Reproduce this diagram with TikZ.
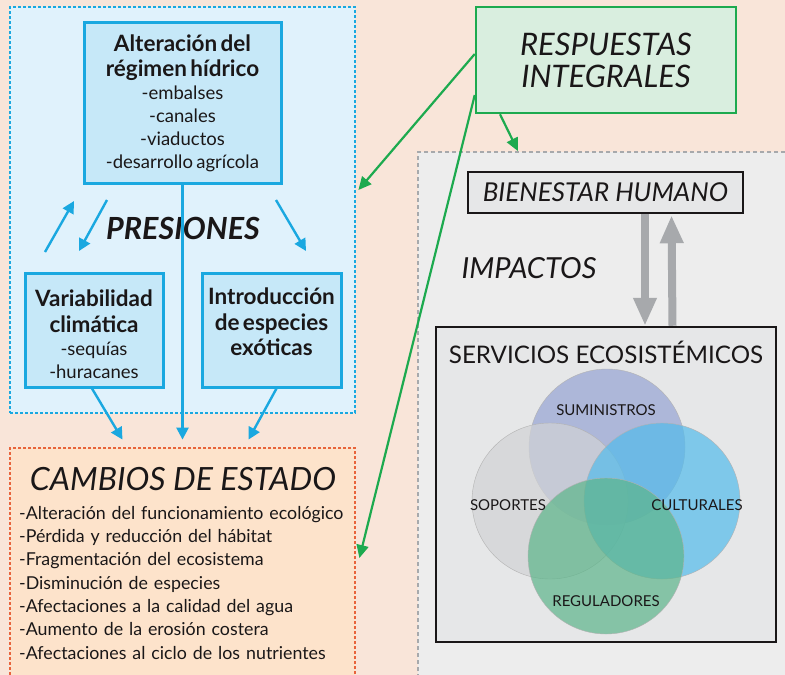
\documentclass[tikz,border=0pt]{standalone}
\usepackage{fontspec}
\setmainfont{Lato}
\usetikzlibrary{arrows.meta}

\definecolor{fondo}{HTML}{F9E5D9}
\definecolor{cian}{HTML}{1AA8E0}
\definecolor{azulclaro}{HTML}{E0F2FC}
\definecolor{azulcaja}{HTML}{C6E8F8}
\definecolor{naranja}{HTML}{E8643C}
\definecolor{naranjaclaro}{HTML}{FDE3CB}
\definecolor{verde}{HTML}{1DAA4F}
\definecolor{verdeclaro}{HTML}{D9EEDF}
\definecolor{grisfondo}{HTML}{EDEDED}
\definecolor{grisborde}{HTML}{A7A9AC}
\definecolor{griscaja}{HTML}{E6E7E8}
\definecolor{gristexto}{HTML}{1A1718}
\definecolor{csuministros}{HTML}{96A4D4}
\definecolor{csoportes}{HTML}{D2D3D5}
\definecolor{cculturales}{HTML}{53BBEB}
\definecolor{creguladores}{HTML}{5CB58A}

\newcommand{\tit}{\bfseries\fontsize{22.5}{25.5}\selectfont}
\newcommand{\lis}{\mdseries\fontsize{18.5}{23}\selectfont}

\begin{document}
\begin{tikzpicture}[x=1pt,y=-1pt,
  every node/.style={text=gristexto},
  caja/.style={draw=cian, line width=3pt, fill=azulcaja, inner sep=0pt},
  texto/.style={align=center, text width=190pt, inner sep=0pt},
  flechaazul/.style={-{Triangle[length=12pt,width=12pt]}, cian, line width=2.4pt},
  flechaverde/.style={-{Triangle[length=13pt,width=12pt]}, verde, line width=2.2pt},
  flechagris/.style={-{Triangle[length=28pt,width=22pt]}, grisborde, line width=8pt},
  circulo/.style={circle, minimum size=156pt, inner sep=0pt, draw=gray!60, line width=0.4pt, fill opacity=0.7},
  etiqueta/.style={font=\fontsize{15}{17}\selectfont}]

\useasboundingbox[fill=fondo] (0,0) rectangle (785,675);

% presiones
\node[draw=cian, dash pattern=on 3pt off 2pt, line width=2.8pt, fill=azulclaro,
      minimum width=345pt, minimum height=406pt, inner sep=0pt] (presiones) at (182.5,210) {};
\node[caja, minimum width=197pt, minimum height=161pt] (alteracion) at (182.5,102.5) {};
\node[texto] (alteraciontxt) at (182.5,103.5) {{\tit Alteración del\\régimen hídrico\par}
  {\lis -embalses\\-canales\\-viaductos\\-desarrollo agrícola\par}};
\node[caja, minimum width=138pt, minimum height=114pt] (variabilidad) at (94,330) {};
\node[texto] (variabilidadtxt) at (94,334) {{\tit Variabilidad\\climática\par}
  {\lis -sequías\\-huracanes\par}};
\node[caja, minimum width=139pt, minimum height=114pt] (introduccion) at (271.5,330) {};
\node[texto] (introducciontxt) at (271.5,322) {{\tit Introducción\\de especies\\exóticas\par}};
\node[font=\bfseries\itshape\fontsize{30.5}{32}\selectfont] (presionestxt) at (183,228) {PRESIONES};

\coordinate (sube1) at (45,252);
\coordinate (sube2) at (74,201);
\coordinate (baja1) at (107,200);
\coordinate (baja2) at (79,251);
\coordinate (der1) at (276,200);
\coordinate (der2) at (306,251);
\draw[flechaazul] (sube1) -- (sube2);
\draw[flechaazul] (baja1) -- (baja2);
\draw[flechaazul] (der1) -- (der2);

% cambios de estado
\node[draw=naranja, dash pattern=on 3pt off 2pt, line width=2.8pt, fill=naranjaclaro,
      minimum width=345pt, minimum height=236pt, inner sep=0pt] (cambios) at (182.5,566) {};
\node[font=\itshape\fontsize{32}{34}\selectfont] (cambiostxt) at (183,479) {CAMBIOS DE ESTADO};
\node[anchor=north west, align=left, text width=340pt, font=\fontsize{17.8}{23.3}\selectfont, inner sep=0pt] (listacambios) at (19,506)
  {-Alteración del funcionamiento ecológico\\
   -Pérdida y reducción del hábitat\\
   -Fragmentación del ecosistema\\
   -Disminución de especies\\
   -Afectaciones a la calidad del agua\\
   -Aumento de la erosión costera\\
   -Afectaciones al ciclo de los nutrientes};

\draw[flechaazul] (alteracion.south) -- ([yshift=7pt]cambios.north);
\draw[flechaazul] ([xshift=-2pt]variabilidad.south) -- ([xshift=-60pt,yshift=7pt]cambios.north);
\draw[flechaazul] ([xshift=5pt]introduccion.south) -- ([xshift=66pt,yshift=7pt]cambios.north);

% impactos
\node[draw=grisborde, dash pattern=on 4pt off 3pt, line width=1.8pt, fill=grisfondo,
      minimum width=382pt, minimum height=548pt, inner sep=0pt] (impactos) at (609,426) {};
\node[draw=gristexto, line width=2.5pt, fill=griscaja, minimum width=275pt, minimum height=41pt,
      font=\itshape\fontsize{26}{28}\selectfont] (bienestar) at (605.5,192.5) {BIENESTAR HUMANO};
\node[font=\itshape\fontsize{29}{31}\selectfont] (impactostxt) at (529,268) {IMPACTOS};
\node[draw=gristexto, line width=2.5pt, fill=griscaja, minimum width=340pt, minimum height=315pt] (servicios) at (606,484.5) {};
\node[font=\fontsize{24.2}{26}\selectfont] (serviciostxt) at (606,352) {SERVICIOS ECOSISTÉMICOS};

\draw[flechagris] ([xshift=39.5pt]bienestar.south) -- ([xshift=39pt]servicios.north);
\draw[flechagris] ([xshift=66.5pt]servicios.north) -- ([xshift=66pt,yshift=-1pt]bienestar.south);

\node[circulo, fill=csuministros] (suministros) at (607,447) {};
\node[circulo, fill=csoportes] (soportes) at (550,501) {};
\node[circulo, fill=cculturales] (culturales) at (662,501) {};
\node[circulo, fill=creguladores] (reguladores) at (606,556) {};
\node[etiqueta] at (606,410) {SUMINISTROS};
\node[etiqueta] at (508,505) {SOPORTES};
\node[etiqueta] at (697,505) {CULTURALES};
\node[etiqueta] at (606,601) {REGULADORES};

% respuestas
\node[draw=verde, line width=2.5pt, fill=verdeclaro, minimum width=260pt, minimum height=106pt, align=center,
      font=\itshape\fontsize{31}{32}\selectfont] (respuestas) at (606,60) {RESPUESTAS\\INTEGRALES};
\draw[flechaverde] ([yshift=6pt]respuestas.west) -- ([xshift=2pt,yshift=20pt]presiones.east);
\draw[flechaverde] ([yshift=-35pt]respuestas.west) -- ([xshift=3pt,yshift=8pt]cambios.east);
\draw[flechaverde] ([xshift=-106pt]respuestas.south) -- ([xshift=-91pt]impactos.north);
\end{tikzpicture}
\end{document}
